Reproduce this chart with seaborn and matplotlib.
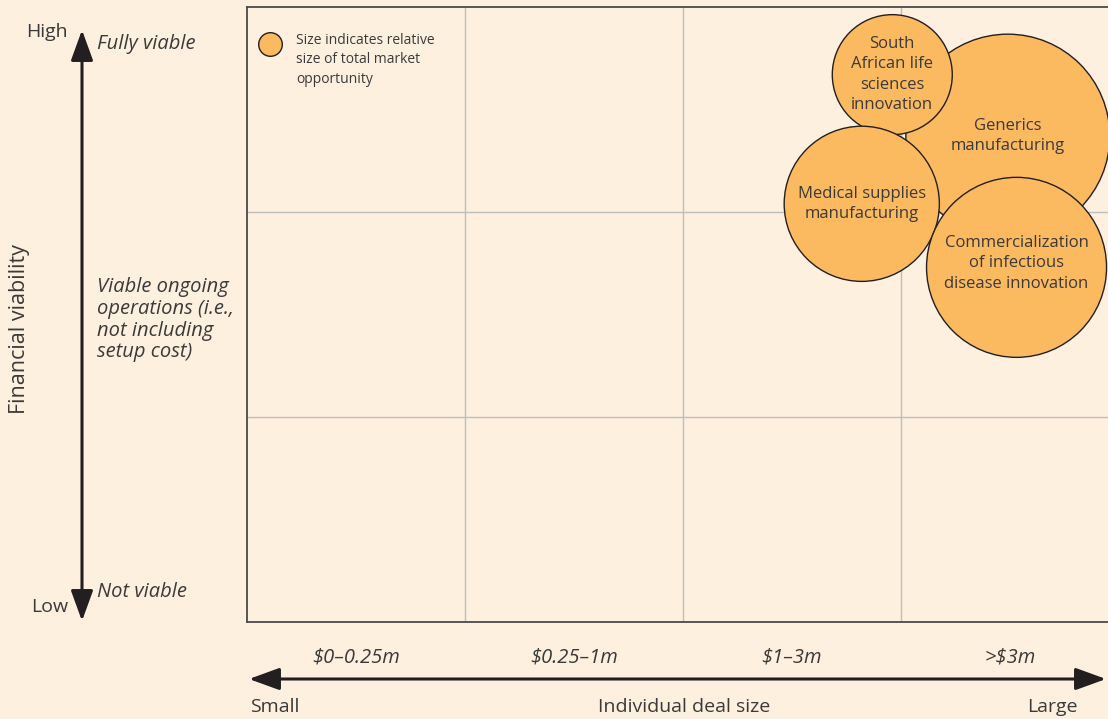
import pandas as pd
import matplotlib.pyplot as plt
import seaborn as sns

# Deal-size bands (x columns) and viability rows
deal_bands = ["$0–0.25m", "$0.25–1m", "$1–3m", ">$3m"]
viability_rows = 3

# Opportunities, drawn back to front
names = ["Generics\nmanufacturing",
         "South\nAfrican life\nsciences\ninnovation",
         "Medical supplies\nmanufacturing",
         "Commercialization\nof infectious\ndisease innovation"]
deal_pos = [3.49, 2.96, 2.82, 3.53]        # position along deal-size axis (0-4)
viability = [2.37, 2.67, 2.04, 1.73]       # financial viability (0-3)
market_size = [10400, 3600, 6020, 8100]    # relative total market opportunity

df = pd.DataFrame({"name": names, "deal": deal_pos,
                   "viability": viability, "market": market_size})

bg = "#FDF0DF"
bubble = "#FBB960"
ink = "#231F20"
txt = "#3A3A3A"

sns.set_theme(style="white")
plt.rcParams["font.family"] = ["Open Sans", "DejaVu Sans"]

W, H = 1108, 719
fig = plt.figure(figsize=(W / 100, H / 100), dpi=100, facecolor=bg)

# plot panel: left 247px, top 7px, bottom 622px, column width 218px
left, top, bottom, colw = 247, 7, 622, 218
ax = fig.add_axes([left / W, (H - bottom) / H, 4 * colw / W, (bottom - top) / H])
ax.set_facecolor(bg)
ax.set_xlim(0, 4)
ax.set_ylim(0, viability_rows)
for v in range(1, 4):
    ax.axvline(v, color="#BDBDBD", lw=1.0, zorder=0)
for v in range(1, viability_rows):
    ax.axhline(v, color="#BDBDBD", lw=1.0, zorder=0)
ax.set_xticks([])
ax.set_yticks([])
for s in ax.spines.values():
    s.set_color("#4A4A4A")
    s.set_linewidth(1.3)

# bubble area in points^2 (market value ~ px radius^2 at 100 dpi)
sizes = {n: m * 4 * 0.72 ** 2 for n, m in zip(names, market_size)}
sns.scatterplot(data=df, x="deal", y="viability", size="name", sizes=sizes,
                color=bubble, edgecolor=ink, linewidth=1.0, alpha=1,
                legend=False, ax=ax, zorder=3, clip_on=False)
for n, x, y in zip(names, deal_pos, viability):
    dy = 0.02 if n.startswith("Commercial") else 0
    ax.text(x, y + dy, n, ha="center", va="center", fontsize=12,
            color=txt, linespacing=1.37, zorder=4)

# legend note
ax.plot([23 / (4 * colw)], [1 - 37 / (bottom - top)], "o", ms=17,
        color=bubble, mec=ink, mew=1.0, transform=ax.transAxes, clip_on=False)
fig.text(296 / W, 1 - 33 / H, "Size indicates relative\nsize of total market\nopportunity",
         ha="left", va="top", fontsize=10, color=txt, linespacing=1.4)

# vertical viability arrow
arrow = dict(arrowstyle="<|-|>,head_length=1.1,head_width=0.4", color=ink,
             lw=2.2, shrinkA=0, shrinkB=0, mutation_scale=17)
ax.annotate("", xy=(82, H - 30), xytext=(82, H - 621), xycoords="figure pixels",
            textcoords="figure pixels", arrowprops=arrow)
fig.text(68 / W, 1 - 32 / H, "High", ha="right", va="center", fontsize=14, color=txt)
fig.text(68 / W, 1 - 607 / H, "Low", ha="right", va="center", fontsize=14, color=txt)
fig.text(97 / W, 1 - 44 / H, "Fully viable", ha="left", va="center", fontsize=14.5,
         style="italic", color=txt)
fig.text(97 / W, 1 - 277 / H, "Viable ongoing\noperations (i.e.,\nnot including\nsetup cost)",
         ha="left", va="top", fontsize=14.5, style="italic", color=txt, linespacing=1.12)
fig.text(97 / W, 1 - 592 / H, "Not viable", ha="left", va="center", fontsize=14.5,
         style="italic", color=txt)
fig.text(20 / W, 1 - 329 / H, "Financial viability", rotation=90, ha="center",
         va="center", fontsize=15.5, color=txt)

# horizontal deal-size arrow
ax.annotate("", xy=(1106, H - 679), xytext=(249, H - 679), xycoords="figure pixels",
            textcoords="figure pixels", arrowprops=arrow)
for i, lab in enumerate(deal_bands):
    fig.text((left + (i + 0.5) * colw) / W, 1 - 657 / H, lab, ha="center",
             va="center", fontsize=14.5, style="italic", color=txt)
fig.text(250 / W, 1 - 707 / H, "Small", ha="left", va="center", fontsize=14, color=txt)
fig.text(684 / W, 1 - 707 / H, "Individual deal size", ha="center", va="center",
         fontsize=14, color=txt)
fig.text(1078 / W, 1 - 707 / H, "Large", ha="right", va="center", fontsize=14, color=txt)

fig.savefig("out.png", dpi=100, facecolor=bg)
